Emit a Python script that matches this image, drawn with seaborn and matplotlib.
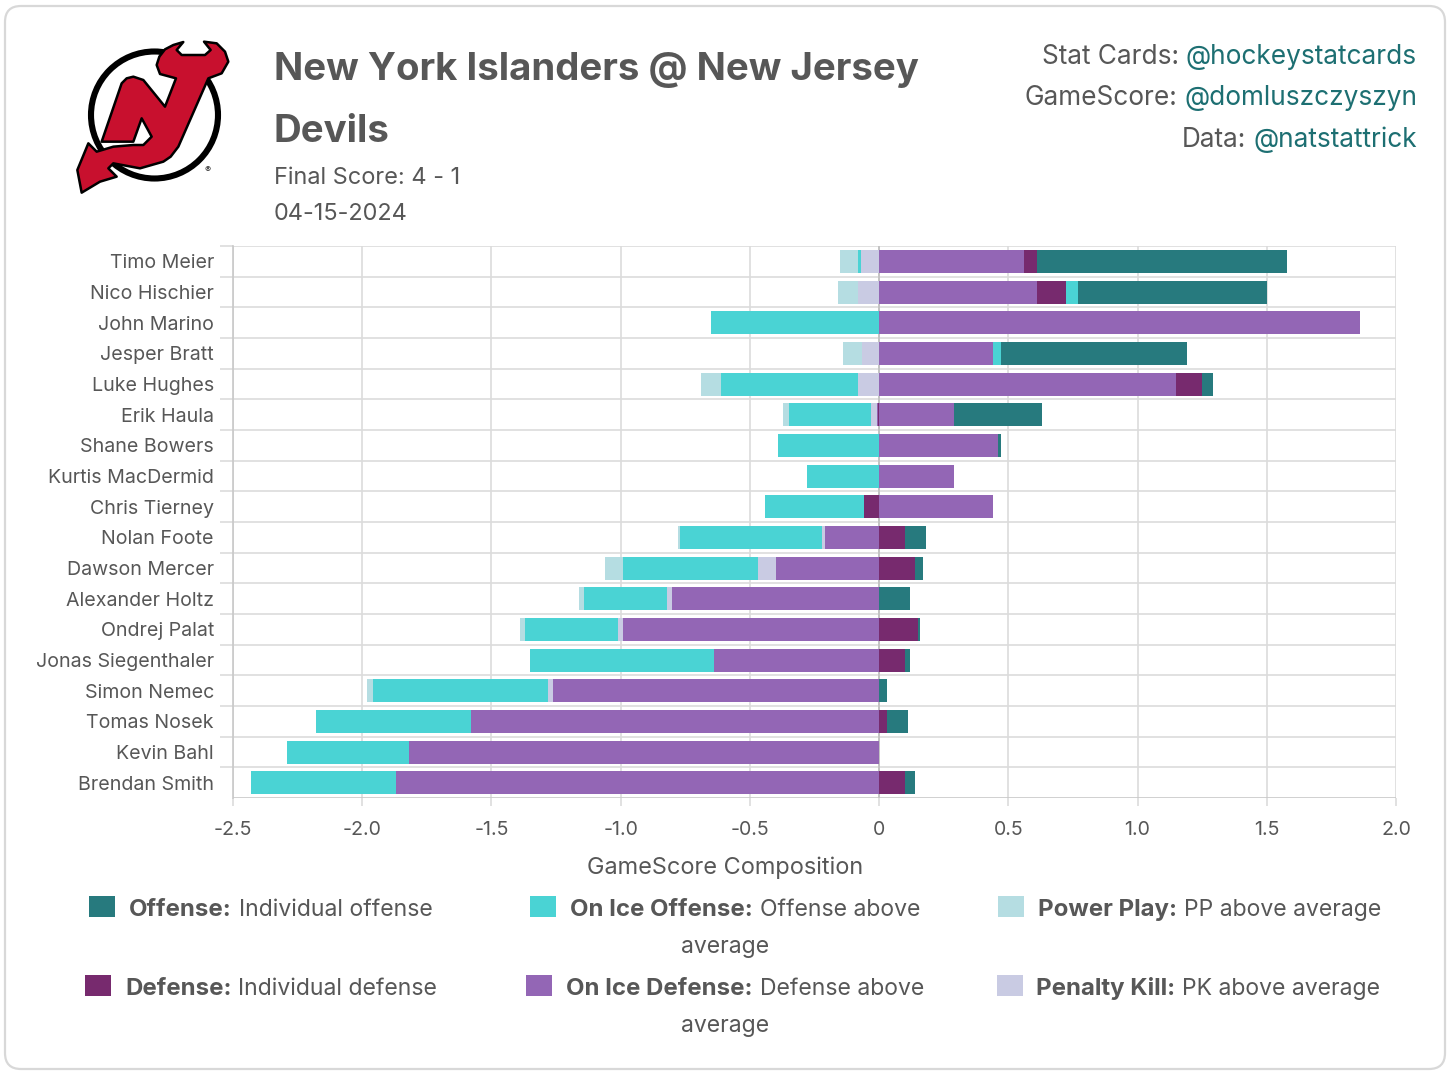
"""
Stacked GameScore composition card, New Jersey Devils.
"""

import matplotlib
matplotlib.use("Agg")
import numpy as np
import pandas as pd
import seaborn as sns
from matplotlib import pyplot as plt
from matplotlib.patches import Circle, FancyBboxPatch, Polygon, Rectangle

players = [
    "Timo Meier", "Nico Hischier", "John Marino", "Jesper Bratt", "Luke Hughes",
    "Erik Haula", "Shane Bowers", "Kurtis MacDermid", "Chris Tierney", "Nolan Foote",
    "Dawson Mercer", "Alexander Holtz", "Ondrej Palat", "Jonas Siegenthaler",
    "Simon Nemec", "Tomas Nosek", "Kevin Bahl", "Brendan Smith",
]

# positive parts of each component
on_ice_def_pos = [0.56, 0.61, 1.86, 0.44, 1.15, 0.29, 0.46, 0.29, 0.44, 0, 0, 0, 0, 0, 0, 0, 0, 0]
defense_pos = [0.05, 0.115, 0, 0, 0.10, 0, 0, 0, 0, 0.10, 0.14, 0, 0.15, 0.10, 0, 0.03, 0, 0.10]
on_ice_off_pos = [0, 0.045, 0, 0.03, 0, 0, 0, 0, 0, 0, 0, 0, 0, 0, 0, 0, 0, 0]
offense_pos = [0.97, 0.73, 0, 0.72, 0.04, 0.34, 0.01, 0, 0, 0.08, 0.03, 0.12, 0.01, 0.02, 0.03, 0.08, 0, 0.04]

# negative parts of each component
defense_neg = [0, 0, 0, 0, 0, -0.005, 0, 0, -0.06, 0, 0, 0, 0, 0, 0, 0, 0, 0]
on_ice_def_neg = [0, 0, 0, 0, 0, -0.005, 0, 0, 0, -0.21, -0.40, -0.80, -0.99, -0.64, -1.26, -1.58, -1.82, -1.87]
penalty_kill_neg = [-0.07, -0.08, 0, -0.065, -0.08, -0.02, 0, 0, 0, -0.01, -0.07, -0.02, -0.02, 0, -0.02, 0, 0, 0]
on_ice_off_neg = [-0.01, 0, -0.65, 0, -0.53, -0.32, -0.39, -0.28, -0.38, -0.55, -0.52, -0.32, -0.36, -0.71, -0.68, -0.60, -0.47, -0.56]
power_play_neg = [-0.07, -0.08, 0, -0.075, -0.08, -0.02, 0, 0, 0, -0.01, -0.07, -0.02, -0.02, 0, -0.02, 0, 0, 0]

x_ticks = [-2.5, -2.0, -1.5, -1.0, -0.5, 0, 0.5, 1.0, 1.5, 2.0]
x_tick_labels = ["-2.5", "-2.0", "-1.5", "-1.0", "-0.5", "0", "0.5", "1.0", "1.5", "2.0"]

OFFENSE = "#277a7e"
ON_ICE_OFF = "#4ad3d4"
POWER_PLAY = "#b5dde2"
DEFENSE = "#772a6e"
ON_ICE_DEF = "#9366b5"
PENALTY_KILL = "#c9cbe3"
TEXT = "#575757"
LINK = "#1d6f72"
GRID = "#dcdcdc"

W, H = 1456, 1076

sns.set_theme(style="white")
plt.rcParams["font.family"] = ["Inter", "DejaVu Sans"]
plt.rcParams["axes.unicode_minus"] = False


def px(size):
    return size * 72 / 100


fig = plt.figure(figsize=(W / 100, H / 100), dpi=100, facecolor="white")

# overlay in pixel coordinates for the card, logo, header and legend
bg = fig.add_axes([0, 0, 1, 1], zorder=0)
bg.set_xlim(0, W)
bg.set_ylim(H, 0)
bg.axis("off")
bg.add_patch(FancyBboxPatch((5, 6), 1440, 1063, boxstyle="round,pad=0,rounding_size=16",
                            fc="white", ec="#d8d8d8", lw=1.6))

# logo, traced by eye
bg.add_patch(Circle((154.5, 115), 63.5, fc="white", ec="black", lw=4.4))
logo = [
    (470, 195), (478, 170), (495, 148), (520, 135), (550, 126), (530, 150), (545, 165),
    (615, 165), (632, 150), (612, 125), (650, 130), (675, 155), (685, 185), (665, 220),
    (625, 235), (535, 440), (512, 470), (490, 485), (420, 505), (340, 490), (325, 505),
    (350, 530), (300, 545), (245, 578), (232, 510), (265, 430), (290, 455), (340, 440),
    (400, 435), (430, 435), (455, 410), (425, 355), (400, 425), (305, 425), (365, 250),
    (380, 235), (400, 230), (430, 240), (495, 320), (528, 235), (480, 222),
]
bg.add_patch(Polygon(np.array(logo) / 3, closed=True, fc="#c8102e", ec="black", lw=1.8, joinstyle="round"))
bg.text(208, 170, "®", fontsize=px(9), color="#222222", ha="center", va="center")

# header
bg.text(274, 80, "New York Islanders @ New Jersey", fontsize=px(38.4), fontweight="bold", color=TEXT)
bg.text(274, 142, "Devils", fontsize=px(38.4), fontweight="bold", color=TEXT)
bg.text(274, 184, "Final Score: 4 - 1", fontsize=px(23.5), color=TEXT)
bg.text(274, 220, "04-15-2024", fontsize=px(23.5), color=TEXT)

renderer = fig.canvas.get_renderer()


def credit(y, label, handle):
    link = bg.text(1417, y, handle, fontsize=px(26.2), color=LINK, ha="right")
    left = link.get_window_extent(renderer).x0
    bg.text(left - 7, y, label, fontsize=px(26.2), color=TEXT, ha="right")


credit(64, "Stat Cards:", "@hockeystatcards")
credit(105, "GameScore:", "@domluszczyszyn")
credit(147, "Data:", "@natstattrick")


def legend_item(key_x, key_y, color, text_x, baseline, bold, regular):
    bg.add_patch(Rectangle((key_x, key_y), 26, 21, fc=color, ec="none"))
    head = bg.text(text_x, baseline, bold, fontsize=px(24), fontweight="bold", color=TEXT)
    right = head.get_window_extent(renderer).x1
    bg.text(right + 7, baseline, regular, fontsize=px(23), color=TEXT)


legend_item(89, 896, OFFENSE, 129, 916, "Offense:", "Individual offense")
legend_item(530, 896, ON_ICE_OFF, 570, 916, "On Ice Offense:", "Offense above")
legend_item(998, 896, POWER_PLAY, 1038, 916, "Power Play:", "PP above average")
legend_item(85, 975, DEFENSE, 125, 995, "Defense:", "Individual defense")
legend_item(526, 975, ON_ICE_DEF, 566, 995, "On Ice Defense:", "Defense above")
legend_item(997, 975, PENALTY_KILL, 1036, 995, "Penalty Kill:", "PK above average")
bg.text(725, 953, "average", fontsize=px(23), color=TEXT, ha="center")
bg.text(725, 1032, "average", fontsize=px(23), color=TEXT, ha="center")

# chart
ax = fig.add_axes([233 / W, 1 - 798 / H, (1396 - 233) / W, (798 - 246) / H], zorder=1)
ax.patch.set_alpha(0)

layers = [
    (on_ice_def_pos, ON_ICE_DEF), (defense_pos, DEFENSE), (on_ice_off_pos, ON_ICE_OFF), (offense_pos, OFFENSE),
]
neg_layers = [
    (defense_neg, DEFENSE), (on_ice_def_neg, ON_ICE_DEF), (penalty_kill_neg, PENALTY_KILL),
    (on_ice_off_neg, ON_ICE_OFF), (power_play_neg, POWER_PLAY),
]

for group in (layers, neg_layers):
    base = np.zeros(len(players))
    for values, color in group:
        frame = pd.DataFrame({"player": players, "value": values})
        sns.barplot(data=frame, x="value", y="player", order=players, orient="h", color=color,
                    saturation=1, width=0.75, errorbar=None, left=base, linewidth=0, ax=ax, zorder=3)
        base = base + np.array(values)

ax.set_xlim(-2.5, 2.0)
ax.set_ylim(17.5, -0.5)
ax.set_xticks(x_ticks)
ax.set_xticklabels(x_tick_labels)
ax.set_yticks(np.arange(len(players)) - 0.5, minor=True)
ax.set_yticks(np.arange(len(players)))
ax.set_yticklabels(players)
ax.set_xlabel("")
ax.set_ylabel("")
ax.grid(True, axis="x", color=GRID, lw=1.2, zorder=0)
ax.grid(True, axis="y", which="minor", color=GRID, lw=1.2, zorder=0)
ax.grid(False, axis="y", which="major")
ax.set_axisbelow(True)
ax.axhline(17.5, color="#c8c8c8", lw=1.2, zorder=2)
ax.axvline(0, color="#c4c4c4", lw=1.4, zorder=2)
ax.tick_params(axis="x", which="major", length=px(8), width=1.2, color=GRID, labelsize=px(19.6), labelcolor=TEXT, pad=px(15), bottom=True)
ax.tick_params(axis="y", which="major", length=0, labelsize=px(19.6), labelcolor=TEXT, pad=px(19))
ax.tick_params(axis="y", which="minor", length=px(13), width=1.2, color=GRID, left=True)
for side, spine in ax.spines.items():
    spine.set_visible(side in ("left",))
    spine.set_color("#c8c8c8")
    spine.set_linewidth(1.2)

bg.text(725, 874, "GameScore Composition", fontsize=px(23.5), color=TEXT, ha="center")

fig.savefig("out.png", dpi=100)
plt.close(fig)
